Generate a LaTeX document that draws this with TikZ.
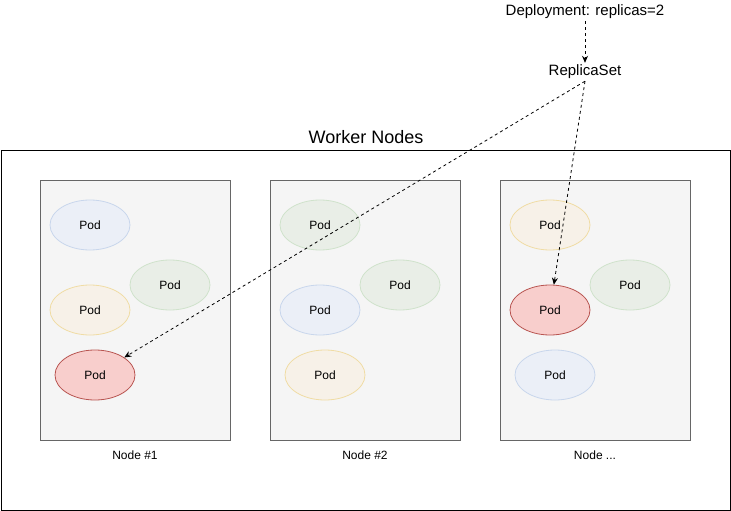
\documentclass[tikz,border=0pt]{standalone}
\usepackage{fontspec}
\setmainfont{Liberation Sans}
\usetikzlibrary{arrows.meta,shapes.geometric}
\definecolor{hostfill}{HTML}{F5F5F5}
\definecolor{hostline}{HTML}{666666}
\definecolor{bluefill}{HTML}{EBEFF7}
\definecolor{blueline}{HTML}{C8D6EC}
\definecolor{greenfill}{HTML}{E9EEE7}
\definecolor{greenline}{HTML}{CFE2CB}
\definecolor{orangefill}{HTML}{F7F1E8}
\definecolor{orangeline}{HTML}{F0DCA4}
\definecolor{redfill}{HTML}{F8CECC}
\definecolor{redline}{HTML}{B85450}
\tikzset{
  pod/.style={ellipse, minimum width=80pt, minimum height=50pt, inner sep=0pt,
    line width=0.8pt, font=\fontsize{12}{14}\selectfont},
  bluepod/.style={pod, draw=blueline, fill=bluefill},
  greenpod/.style={pod, draw=greenline, fill=greenfill},
  orangepod/.style={pod, draw=orangeline, fill=orangefill},
  redpod/.style={pod, draw=redline, fill=redfill},
  host/.style={draw=hostline, fill=hostfill, line width=0.8pt},
  caption/.style={font=\fontsize{12}{14}\selectfont},
  ctrl/.style={font=\fontsize{15}{17}\selectfont, inner sep=2pt},
  link/.style={line width=0.8pt, dash pattern=on 3pt off 3pt,
    -{Stealth[length=7pt,width=6pt]}}
}
\begin{document}
\begin{tikzpicture}[x=1pt,y=-1pt]
\useasboundingbox (0,0) rectangle (731,511);
% cluster frame
\draw[line width=1pt] (1,150) rectangle (730,510);
\node (title) at (366,137) {\fontsize{18}{20}\selectfont Worker Nodes};
% worker hosts
\draw[host] (40,180) rectangle (230,440);
\draw[host] (270,180) rectangle (460,440);
\draw[host] (500,180) rectangle (690,440);
\node[caption] (n1) at (135,455) {Node \#1};
\node[caption] (n2) at (365,455) {Node \#2};
\node[caption] (n3) at (595,455) {Node ...};
% pods on node 1
\node[bluepod] (a1) at (90,225) {Pod};
\node[greenpod] (a2) at (170,285) {Pod};
\node[orangepod] (a3) at (90,310) {Pod};
\node[redpod] (a4) at (95,375) {Pod};
% pods on node 2
\node[greenpod] (b1) at (320,225) {Pod};
\node[greenpod] (b2) at (400,285) {Pod};
\node[bluepod] (b3) at (320,310) {Pod};
\node[orangepod] (b4) at (325,375) {Pod};
% pods on node 3
\node[orangepod] (c1) at (550,225) {Pod};
\node[greenpod] (c2) at (630,285) {Pod};
\node[redpod] (c3) at (550,310) {Pod};
\node[bluepod] (c4) at (555,375) {Pod};
% controllers
\node[ctrl] (dep) at (585,12) {Deployment: replicas=2};
\node[ctrl] (rs) at (585,72) {ReplicaSet};
\draw[link] (dep) -- (rs);
\draw[link] (rs.south) -- (a4);
\draw[link] (rs.south) -- (c3);
\end{tikzpicture}
\end{document}
